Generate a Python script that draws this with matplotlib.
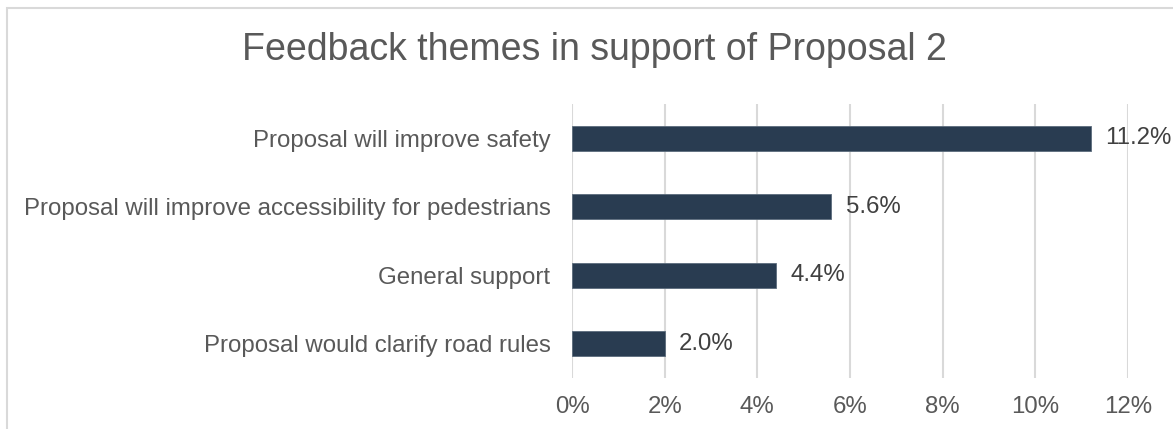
import matplotlib
matplotlib.use("Agg")
import matplotlib.pyplot as plt
from matplotlib.patches import Rectangle
from matplotlib.ticker import FuncFormatter

categories = [
    "Proposal will improve safety",
    "Proposal will improve accessibility for pedestrians",
    "General support",
    "Proposal would clarify road rules",
]
values = [11.2, 5.6, 4.4, 2.0]
xticks = [0, 2, 4, 6, 8, 10, 12]
title = "Feedback themes in support of Proposal 2"

plt.rcParams['font.family'] = ['Liberation Sans', 'DejaVu Sans']

W, H = 1173, 429
fig = plt.figure(figsize=(W / 100, H / 100), dpi=100)
fig.patch.set_facecolor("white")

# outer chart frame (cut off at right/bottom)
fig.patches.append(Rectangle((7 / W, -0.1), 1.2, (H - 8) / H + 0.1,
                             transform=fig.transFigure, fill=False,
                             edgecolor="#D9D9D9", linewidth=1.5))

left, right, top, bottom = 572, 1128, 104, 378
ax = fig.add_axes([left / W, 1 - bottom / H, (right - left) / W, (bottom - top) / H])

ypos = list(range(len(categories)))
ax.barh(ypos, values, height=0.36, color="#293C51", edgecolor="#5B6B7C",
        linewidth=0.6, zorder=3)
ax.set_ylim(len(categories) - 0.5, -0.5)
ax.set_xlim(xticks[0], xticks[-1])
ax.set_xticks(xticks)
ax.xaxis.set_major_formatter(FuncFormatter(lambda v, p: f"{v:.0f}%"))
ax.set_yticks(ypos)
ax.set_yticklabels(categories)
ax.tick_params(axis='y', length=0, pad=15.5, labelsize=17.3, labelcolor="#595959")
ax.tick_params(axis='x', length=0, pad=13, labelsize=17.3, labelcolor="#595959")
ax.grid(axis='x', color="#D9D9D9", linewidth=1.5, zorder=0)
for s in ax.spines.values():
    s.set_visible(False)

for y, v in zip(ypos, values):
    ax.annotate(f"{v:.1f}%", xy=(v, y), xytext=(10.5, 0), textcoords="offset points",
                ha="left", va="center", fontsize=17.3, color="#404040")

fig.text(594.5 / W, 1 - 49.5 / H, title, ha="center", va="center",
         fontsize=27, color="#595959")

fig.savefig("out.png", dpi=100)
